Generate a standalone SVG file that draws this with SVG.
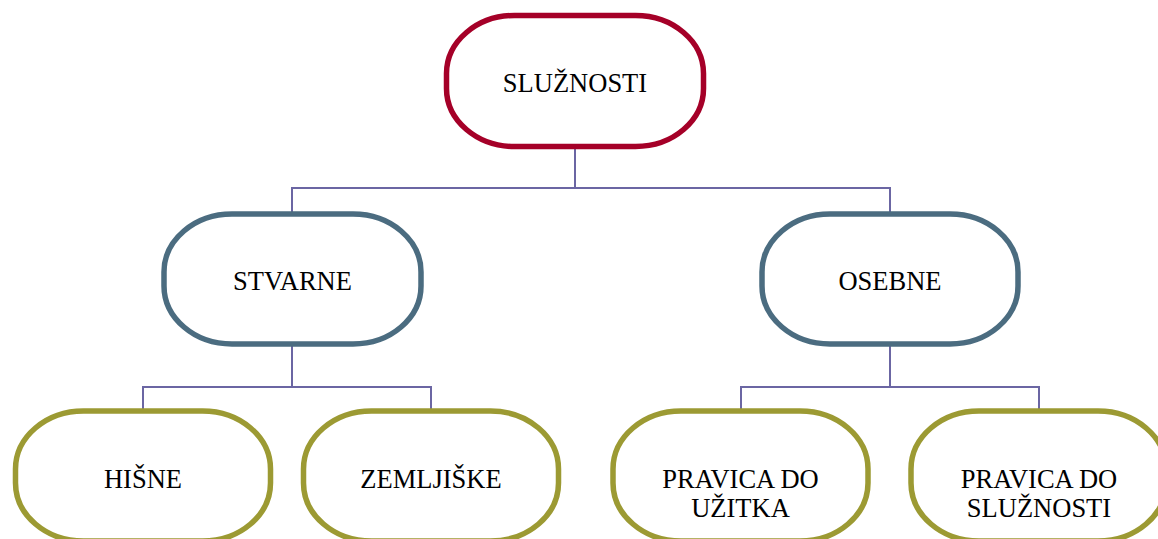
<svg xmlns="http://www.w3.org/2000/svg" width="1158" height="539" viewBox="0 0 1158 539">
<style>
.node{fill:#FFFFFF;stroke-width:5.5}
.l1{stroke:#A50028}
.l2{stroke:#4B6C80}
.l3{stroke:#9C9A33}
.conn{fill:none;stroke:#6B66A3;stroke-width:2}
text{font-family:"Liberation Serif","Times New Roman",serif;font-size:26.5px;fill:#000000;text-anchor:middle}
</style>
<rect width="1158" height="539" fill="#FFFFFF"/>
<g id="connectors">
<path class="conn" d="M575,147 V188 M292,212 V188 H890 V212"/>
<path class="conn" d="M292,346 V387 M143,411 V387 H431 V411"/>
<path class="conn" d="M890,346 V387 M741,411 V387 H1039 V411"/>
</g>
<g id="n-sluznosti">
<rect class="node l1" x="446.5" y="15.5" width="257" height="131" rx="68" ry="58"/>
<text x="575" y="92">SLUŽNOSTI</text>
</g>
<g id="n-stvarne">
<rect class="node l2" x="164" y="214" width="257" height="130" rx="68" ry="58"/>
<text x="292.5" y="290">STVARNE</text>
</g>
<g id="n-osebne">
<rect class="node l2" x="762" y="214" width="256" height="130" rx="68" ry="58"/>
<text x="890" y="290">OSEBNE</text>
</g>
<g id="n-hisne">
<rect class="node l3" x="15.5" y="411" width="255" height="130" rx="68" ry="58"/>
<text x="143" y="488">HIŠNE</text>
</g>
<g id="n-zemljiske">
<rect class="node l3" x="303.5" y="411" width="255" height="130" rx="68" ry="58"/>
<text x="431" y="488">ZEMLJIŠKE</text>
</g>
<g id="n-pravica-uzitka">
<rect class="node l3" x="613" y="411" width="255" height="130" rx="68" ry="58"/>
<text x="740.5" y="488">PRAVICA DO</text>
<text x="740.5" y="517">UŽITKA</text>
</g>
<g id="n-pravica-sluznosti">
<rect class="node l3" x="911" y="411" width="255" height="130" rx="68" ry="58"/>
<text x="1039" y="488">PRAVICA DO</text>
<text x="1039" y="517">SLUŽNOSTI</text>
</g>
</svg>
